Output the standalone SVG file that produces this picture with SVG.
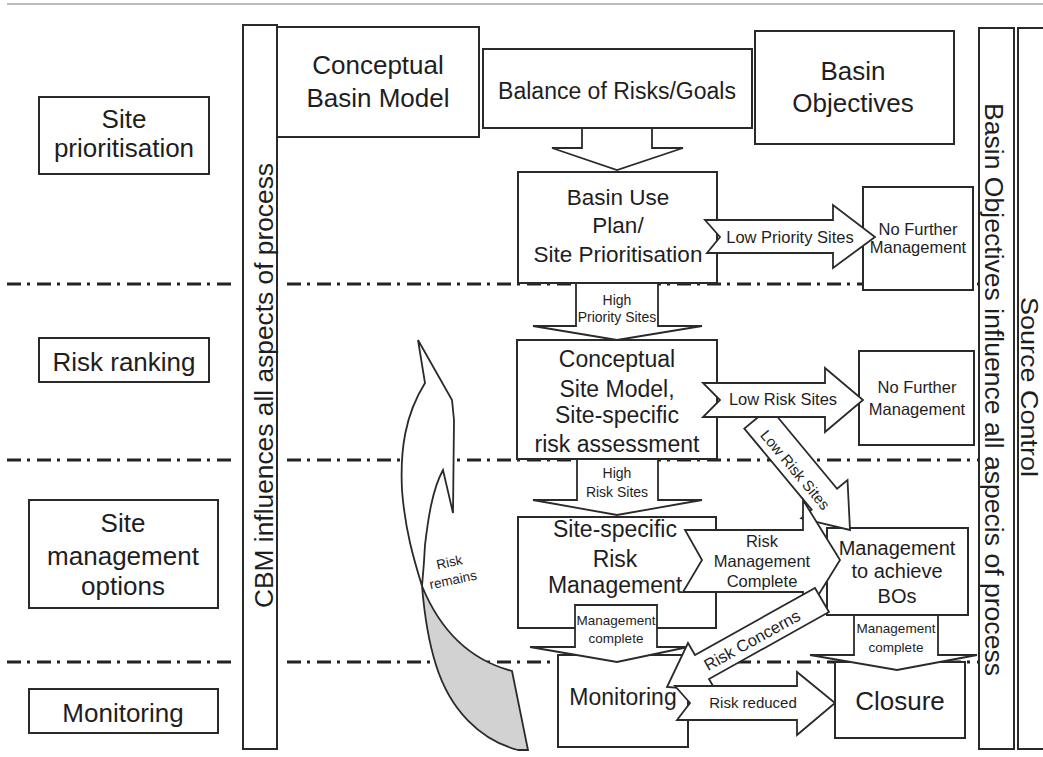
<svg xmlns="http://www.w3.org/2000/svg" width="1043" height="757" viewBox="0 0 1043 757">
<style>
.box{fill:#fff;stroke:#2a2a2a;stroke-width:2}
.bar{fill:#fff;stroke:#2a2a2a;stroke-width:2}
.arr{fill:#fff;stroke:#2a2a2a;stroke-width:1.8;stroke-linejoin:miter}
.dd{stroke:#222;stroke-width:3;stroke-dasharray:14 6 3 7;fill:none}
text{font-family:"Liberation Sans",Arial,sans-serif;fill:#1e1e1e;text-anchor:middle}
.f26{font-size:26px}.f24{font-size:24px}.f23{font-size:23px}.f22{font-size:22.5px}.f20{font-size:20px}
.f16{font-size:16.5px}.f15{font-size:15px}.f14{font-size:14px}.f13{font-size:13.5px}
</style>
<rect width="1043" height="757" fill="#fff"/>
<line x1="7" y1="4" x2="1043" y2="4" stroke="#bdbdbd" stroke-width="2"/>

<g id="lanes">
<line class="dd" x1="7" y1="284" x2="233" y2="284"/><line class="dd" x1="287" y1="284" x2="979" y2="284"/>
<line class="dd" x1="7" y1="460" x2="233" y2="460"/><line class="dd" x1="287" y1="460" x2="979" y2="460"/>
<line class="dd" x1="7" y1="662" x2="233" y2="662"/><line class="dd" x1="287" y1="662" x2="979" y2="662"/>
</g>

<g id="cbm-bar"><rect class="bar" x="243" y="25" width="34" height="724"/>
<text class="f26" transform="translate(273,385.5) rotate(-90)" textLength="445" lengthAdjust="spacingAndGlyphs">CBM influences all aspects of process</text></g>
<g id="bo-bar"><rect class="bar" x="979" y="28" width="35" height="721"/>
<text class="f26" transform="translate(985,389.5) rotate(90)" textLength="573" lengthAdjust="spacingAndGlyphs">Basin Objectives influence all aspecis of process</text></g>
<g id="source-control"><rect class="bar" x="1018" y="28" width="32" height="721"/>
<text class="f24" transform="translate(1021,387) rotate(90)" textLength="180" lengthAdjust="spacingAndGlyphs">Source Control</text></g>

<g id="lbl-site-prioritisation"><rect class="box" x="39" y="97" width="170" height="77"/>
<text class="f26" x="124" y="128">Site</text><text class="f26" x="124" y="157">prioritisation</text></g>
<g id="lbl-risk-ranking"><rect class="box" x="39" y="338" width="170" height="44"/>
<text class="f26" x="124" y="371">Risk ranking</text></g>
<g id="lbl-site-management"><rect class="box" x="29" y="500" width="189" height="108"/>
<text class="f26" x="123" y="532">Site</text><text class="f26" x="123" y="565">management</text><text class="f26" x="123" y="595">options</text></g>
<g id="lbl-monitoring"><rect class="box" x="29" y="689" width="189" height="44"/>
<text class="f26" x="123" y="722">Monitoring</text></g>

<g id="conceptual-basin-model"><rect class="box" x="277" y="27" width="202" height="110"/>
<text class="f26" x="378" y="74">Conceptual</text><text class="f26" x="378" y="107">Basin Model</text></g>
<g id="balance"><rect class="box" x="483" y="49" width="269" height="79"/>
<text class="f23" x="617" y="99">Balance of Risks/Goals</text></g>
<g id="basin-objectives"><rect class="box" x="755" y="31" width="199" height="113"/>
<text class="f26" x="853" y="80">Basin</text><text class="f26" x="853" y="112">Objectives</text></g>

<g id="basin-use-plan"><rect class="box" x="518" y="172" width="199" height="111"/>
<text class="f22" x="618" y="205">Basin Use</text><text class="f22" x="618" y="233">Plan/</text><text class="f22" x="618" y="262">Site Prioritisation</text></g>
<g id="nfm-1"><rect class="box" x="863" y="187" width="110" height="103"/>
<text class="f16" x="918" y="235">No Further</text><text class="f16" x="918" y="253">Management</text></g>

<g id="conceptual-site-model"><rect class="box" x="517" y="340" width="200" height="119"/>
<text class="f23" x="617" y="367">Conceptual</text><text class="f23" x="617" y="397">Site Model,</text><text class="f23" x="617" y="423">Site-specific</text><text class="f23" x="617" y="452">risk assessment</text></g>
<g id="nfm-2"><rect class="box" x="859" y="351" width="115" height="94"/>
<text class="f16" x="917" y="393">No Further</text><text class="f16" x="917" y="415">Management</text></g>

<g id="site-specific-rm"><rect class="box" x="518" y="517" width="198" height="111"/>
<text class="f23" x="615" y="537">Site-specific</text><text class="f23" x="615" y="567">Risk</text><text class="f23" x="615" y="593">Management</text></g>
<g id="management-bos"><rect class="box" x="827" y="528" width="141" height="87"/>
<text class="f20" x="897" y="555">Management</text><text class="f20" x="897" y="578">to achieve</text><text class="f20" x="897" y="603">BOs</text></g>
<g id="monitoring"><rect class="box" x="558" y="655" width="130" height="92"/>
<text class="f23" x="623" y="705">Monitoring</text></g>
<g id="closure"><rect class="box" x="835" y="662" width="130" height="76"/>
<text class="f26" x="900" y="710">Closure</text></g>

<g id="connectors">
<polygon class="arr" points="582,128 652,128 652,148 683,148 617,170 552,148 582,148"/>
<polygon class="arr" points="769.7,407.5 837.1,488.7 847.5,480 850,530 801.3,518.4 811.7,509.7 744.3,428.5"/>
<text class="f15" transform="translate(795,470) rotate(50)" y="5">Low Risk Sites</text>
<polygon class="arr" points="705,220 833,220 833,205 875,237 833,268 833,253 707,253 720,237"/>
<text class="f16" x="790" y="243">Low Priority Sites</text>
<polygon class="arr" points="576,283 658,283 658,326 702,326 617,340 533,326 576,326"/>
<text class="f14" x="617" y="305">High</text><text class="f14" x="617" y="322">Priority Sites</text>
<polygon class="arr" points="703,383 825,383 825,368 863,400 825,432 825,417 703,417 720,400"/>
<text class="f16" x="783" y="405">Low Risk Sites</text>
<polygon class="arr" points="577,459 658,459 658,500 702,500 617,515 533,500 577,500"/>
<text class="f14" x="617" y="478">High</text><text class="f14" x="617" y="497">Risk Sites</text>
<polygon class="arr" points="685,530 803,530 803,500 840,560 803,620 803,592 683,592 702,560"/>
<text class="f16" x="762" y="547">Risk</text><text class="f16" x="762" y="567">Management</text><text class="f16" x="762" y="587">Complete</text>
<polygon class="arr" points="575,605 657,605 657,647 688,647 617,662 530,647 575,647"/>
<text class="f13" x="616" y="625">Management</text><text class="f13" x="616" y="643">complete</text>
<polygon class="arr" points="854,615 938,615 938,655 977,655 897,670 810,655 854,655"/>
<text class="f13" x="896" y="633">Management</text><text class="f13" x="896" y="652">complete</text>
<polygon class="arr" points="815,588 829,612 709,679 716,691 667,687 688,643 695,655"/>
<text class="f16" transform="translate(752,640) rotate(-29)" y="6">Risk Concerns</text>
<polygon class="arr" points="675,686 797,686 797,672 835,703 797,735 797,720 677,720 690,703"/>
<text class="f15" x="753" y="708">Risk reduced</text>
</g>

<g id="risk-remains">
<path class="arr" d="M418,340 L452,400 L454,420 L453,513 L443,470 C432,490 428,520 425,545 C424,565 423,575 422,586 C414,560 405,530 402,490 C400,450 405,415 425,383 Z"/>
<path d="M422,586 C440,630 470,660 512,671 L528,750 L518,750 C480,740 450,710 436,665 C428,640 424,610 422,586 Z" fill="#d2d2d2" stroke="#2a2a2a" stroke-width="1.8"/>
<g transform="rotate(-12 450 575)"><text class="f13" x="452" y="567">Risk</text><text class="f13" x="452" y="585">remains</text></g>
</g>
</svg>
